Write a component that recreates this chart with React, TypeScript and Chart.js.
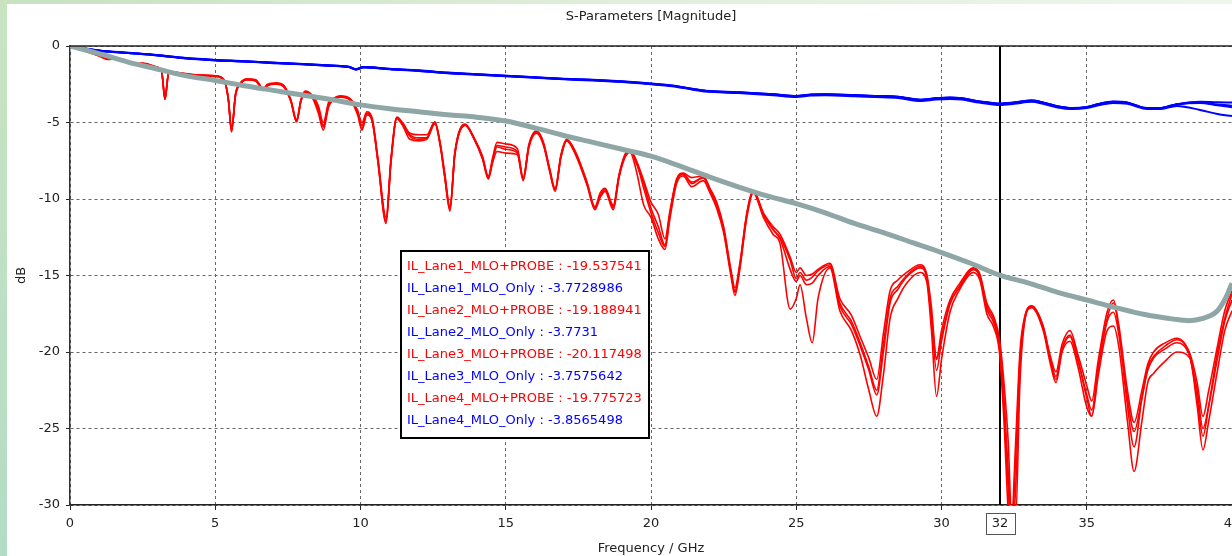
import React, { useEffect, useRef } from "react";
import { Chart, registerables } from "chart.js";

Chart.register(...registerables);

// ---------- texts ----------
const chartTitle = "S-Parameters [Magnitude]";
const xAxisTitle = "Frequency / GHz";
const yAxisTitle = "dB";
const xTicks = [0, 5, 10, 15, 20, 25, 30, 35, 40];
const yTicks = [-30, -25, -20, -15, -10, -5, 0];
const markerFreq = 32;

const probeNames = [
  "IL_Lane1_MLO+PROBE",
  "IL_Lane2_MLO+PROBE",
  "IL_Lane3_MLO+PROBE",
  "IL_Lane4_MLO+PROBE",
];
const onlyNames = [
  "IL_Lane1_MLO_Only",
  "IL_Lane2_MLO_Only",
  "IL_Lane3_MLO_Only",
  "IL_Lane4_MLO_Only",
];
const probeMarkerValues = ["-19.537541", "-19.188941", "-20.117498", "-19.775723"];
const onlyMarkerValues = ["-3.7728986", "-3.7731", "-3.7575642", "-3.8565498"];

// ---------- MLO + PROBE (red) ----------
const probeFreq = [
  0, 0.5, 1.0, 1.3, 1.6, 2.0, 2.2, 2.5, 3.0, 3.15,
  3.27, 3.4, 3.9, 4.5, 5.0, 5.3, 5.45, 5.56, 5.7, 5.85,
  6.1, 6.4, 6.65, 6.8, 7.1, 7.35, 7.6, 7.8, 7.95, 8.1,
  8.35, 8.55, 8.72, 8.9, 9.05, 9.3, 9.65, 9.9, 10.05, 10.22,
  10.4, 10.6, 10.88, 11.05, 11.25, 11.45, 11.7, 12.0, 12.28, 12.56,
  12.75, 12.9, 13.08, 13.25, 13.6, 13.9, 14.2, 14.4, 14.55, 14.7,
  15.0, 15.4, 15.6, 15.8, 16.06, 16.3, 16.5, 16.7, 16.9, 17.1,
  17.4, 17.8, 18.07, 18.25, 18.42, 18.7, 18.9, 19.1, 19.28, 19.5,
  19.75, 20.0, 20.25, 20.48, 20.65, 20.88, 21.11, 21.4, 21.8, 22.03,
  22.26, 22.5, 22.75, 22.89, 23.05, 23.3, 23.52, 23.87, 24.2, 24.44,
  24.79, 25.0, 25.13, 25.35, 25.55, 25.75, 26.16, 26.5, 26.9, 27.2,
  27.5, 27.77, 28.0, 28.23, 28.5, 28.8, 29.26, 29.49, 29.65, 29.83,
  30.0, 30.29, 30.6, 31.1, 31.32, 31.56, 31.8, 32.0, 32.15, 32.3,
  32.4, 32.55, 32.7, 32.85, 33.1, 33.5, 33.75, 33.94, 34.15, 34.42,
  34.7, 35.0, 35.17, 35.4, 35.7, 35.92, 36.1, 36.4, 36.63, 36.9,
  37.1, 37.3, 37.7, 38.1, 38.55, 38.8, 39.0, 39.2, 39.5, 39.75,
  40.0,
];
const lane1Probe = [
  0, -0.3, -0.62, -0.85, -0.82, -1.0, -1.2, -1.15, -1.4, -1.6,
  -3.5, -1.7, -1.8, -1.9, -1.95, -2.2, -3.5, -5.6, -3.2, -2.5,
  -2.2, -2.25, -2.85, -2.55, -2.45, -2.6, -3.6, -4.95, -3.6, -3.0,
  -3.3, -4.2, -5.3, -3.8, -3.5, -3.3, -3.5, -4.3, -5.4, -4.4,
  -4.8, -7.5, -11.5, -7.5, -4.7, -5.1, -5.8, -6.0, -6.0, -5.0,
  -6.5, -8.5, -10.7, -7.0, -5.16, -6.0, -7.3, -8.6, -7.5, -6.6,
  -6.75, -7.0, -8.7, -6.5, -5.6, -6.4, -8.0, -9.4, -7.2, -6.15,
  -7.0, -9.0, -10.6, -9.8, -9.35, -10.6, -8.5, -7.2, -6.85, -7.6,
  -9.3, -10.9, -12.2, -13.1, -11.0, -8.8, -8.35, -9.0, -8.6, -9.4,
  -10.4, -12.0, -14.8, -16.1, -14.5, -11.0, -9.5, -11.0, -12.0, -12.5,
  -14.0, -15.2, -14.8, -15.3, -15.1, -14.7, -14.3, -16.8, -18.0, -19.4,
  -21.0, -22.5, -19.5, -16.5, -15.7, -15.0, -14.4, -15.0, -17.5, -20.5,
  -19.0, -16.8, -15.8, -14.6, -15.0, -17.0, -17.9, -19.54, -23.0, -28.0,
  -31.5, -26.0, -20.0, -17.8, -17.0, -18.4, -20.5, -21.8, -19.8, -18.9,
  -20.5, -23.0, -24.2, -21.0, -17.8, -16.8, -18.5, -23.5, -26.2, -23.0,
  -21.0, -20.3, -19.6, -19.2, -20.3, -23.0, -25.5, -23.5, -20.0, -17.8,
  -16.2,
];
const lane2Probe = [
  0, -0.3, -0.6, -0.8, -0.8, -0.98, -1.15, -1.12, -1.38, -1.58,
  -3.4, -1.68, -1.78, -1.9, -1.95, -2.2, -3.4, -5.4, -3.1, -2.45,
  -2.15, -2.2, -2.8, -2.5, -2.4, -2.55, -3.5, -4.8, -3.5, -2.95,
  -3.25, -3.9, -5.0, -3.7, -3.45, -3.25, -3.45, -4.2, -5.0, -4.3,
  -4.7, -7.3, -11.2, -7.3, -4.65, -5.0, -5.7, -5.8, -5.8, -4.95,
  -6.4, -8.3, -10.5, -6.9, -5.1, -5.95, -7.2, -8.5, -7.3, -6.3,
  -6.4, -6.7, -8.6, -6.4, -5.55, -6.3, -7.9, -9.3, -7.1, -6.1,
  -6.9, -8.9, -10.5, -9.6, -9.3, -10.4, -8.4, -7.1, -6.8, -7.5,
  -8.8, -10.2, -11.0, -12.6, -10.8, -8.7, -8.3, -8.6, -8.5, -9.3,
  -10.2, -11.8, -14.6, -15.8, -14.3, -10.9, -9.45, -10.9, -11.8, -12.3,
  -13.8, -14.8, -14.5, -15.0, -14.9, -14.6, -14.2, -16.5, -17.6, -19.0,
  -20.4, -21.8, -18.8, -16.0, -15.3, -14.8, -14.3, -14.9, -17.0, -20.4,
  -18.6, -16.6, -15.6, -14.5, -14.9, -16.8, -17.7, -19.19, -22.0, -26.0,
  -30.5, -31.0, -22.0, -18.2, -17.0, -18.3, -20.3, -21.3, -19.5, -18.6,
  -20.2, -22.2, -23.2, -20.5, -17.4, -16.6, -18.2, -22.5, -24.6, -22.5,
  -20.8, -20.0, -19.4, -19.1, -20.1, -22.0, -24.2, -22.5, -19.6, -17.3,
  -16.0,
];
const lane3Probe = [
  0, -0.32, -0.65, -0.88, -0.85, -1.02, -1.22, -1.18, -1.42, -1.62,
  -3.5, -1.72, -1.85, -1.95, -2.0, -2.25, -3.5, -5.6, -3.2, -2.5,
  -2.2, -2.3, -2.9, -2.6, -2.5, -2.65, -3.6, -4.95, -3.6, -3.05,
  -3.4, -4.4, -5.5, -4.0, -3.55, -3.35, -3.55, -4.5, -5.5, -4.5,
  -4.9, -7.6, -11.6, -7.6, -4.75, -5.2, -6.1, -6.2, -6.1, -5.1,
  -6.6, -8.6, -10.8, -7.1, -5.2, -6.05, -7.4, -8.7, -7.6, -6.9,
  -7.0, -7.1, -8.8, -6.6, -5.7, -6.5, -8.1, -9.5, -7.3, -6.2,
  -7.1, -9.1, -10.7, -9.9, -9.5, -10.7, -8.6, -7.3, -6.95, -8.2,
  -10.4, -11.2, -12.6, -13.3, -11.3, -9.0, -8.5, -9.2, -8.8, -9.6,
  -10.6, -12.2, -15.0, -16.3, -14.7, -11.2, -9.6, -11.2, -12.3, -12.9,
  -17.2, -16.5, -15.6, -17.8, -19.4, -16.5, -14.5, -17.3, -18.6, -20.2,
  -22.5, -24.2, -21.5, -17.8, -16.5, -15.5, -14.8, -15.4, -18.5, -22.9,
  -20.5, -17.4, -16.0, -14.8, -15.3, -17.5, -18.4, -20.12, -24.5, -30.5,
  -32.0, -27.0, -20.5, -18.0, -17.1, -18.6, -20.8, -22.0, -20.0, -19.3,
  -21.0, -23.6, -24.2, -21.5, -18.6, -18.3, -19.6, -24.5, -27.8, -24.5,
  -22.0, -21.4, -20.6, -20.0, -20.4, -23.5, -26.4, -24.5, -21.2, -18.6,
  -17.3,
];
const lane4Probe = [
  0, -0.3, -0.63, -0.82, -0.83, -1.0, -1.18, -1.15, -1.4, -1.6,
  -3.45, -1.7, -1.8, -1.92, -1.97, -2.2, -3.45, -5.5, -3.15, -2.5,
  -2.2, -2.25, -2.85, -2.55, -2.45, -2.6, -3.55, -4.9, -3.55, -3.0,
  -3.35, -4.1, -5.2, -3.9, -3.5, -3.3, -3.5, -4.35, -5.2, -4.4,
  -4.85, -7.5, -11.4, -7.5, -4.7, -5.1, -5.9, -6.1, -6.0, -5.0,
  -6.5, -8.5, -10.6, -7.0, -5.15, -6.0, -7.3, -8.6, -7.4, -6.5,
  -6.6, -6.9, -8.7, -6.5, -5.6, -6.4, -8.0, -9.4, -7.2, -6.15,
  -7.0, -9.0, -10.6, -9.8, -9.4, -10.5, -8.5, -7.2, -6.85, -7.7,
  -9.0, -10.6, -11.8, -13.0, -11.0, -8.8, -8.4, -8.9, -8.6, -9.4,
  -10.4, -12.0, -14.8, -16.0, -14.5, -11.0, -9.5, -11.0, -12.0, -12.6,
  -14.6, -15.4, -15.0, -15.6, -15.5, -15.0, -14.4, -17.0, -18.2, -19.6,
  -21.2, -22.8, -20.0, -16.8, -15.9, -15.1, -14.5, -15.1, -17.8, -21.2,
  -19.3, -16.9, -15.8, -14.6, -15.1, -17.2, -18.1, -19.78, -23.5, -29.0,
  -31.8, -29.0, -21.0, -18.0, -17.0, -18.4, -20.5, -21.6, -19.8, -19.0,
  -20.6, -22.8, -23.8, -21.0, -18.0, -17.4, -18.8, -23.0, -25.2, -23.0,
  -21.2, -20.4, -19.8, -19.4, -20.3, -22.5, -25.0, -23.5, -20.4, -18.0,
  -16.6,
];

// ---------- MLO only (blue) ----------
const onlyFreq = [
  0, 1, 2, 3, 4, 5, 6, 7, 8, 9,
  9.6, 9.85, 10.1, 11, 12, 13, 14, 15, 16, 17,
  18, 19, 19.6, 20.2, 20.8, 21.4, 21.9, 23, 24.2, 25,
  25.5, 26, 27, 27.7, 28.5, 29.3, 29.8, 30.3, 30.7, 31.2,
  31.7, 32, 32.5, 33.1, 33.5, 34, 34.5, 35, 35.4, 35.9,
  36.4, 37, 37.5, 38.1, 38.9, 39.5, 40,
];
const lane1Only = [
  0, -0.3, -0.45, -0.6, -0.8, -0.92, -1.0, -1.1, -1.18, -1.28,
  -1.36, -1.52, -1.38, -1.5, -1.6, -1.75, -1.85, -1.95, -2.05, -2.15,
  -2.22, -2.32, -2.4, -2.5, -2.61, -2.8, -2.94, -3.03, -3.16, -3.27,
  -3.18, -3.16, -3.22, -3.27, -3.32, -3.52, -3.42, -3.38, -3.42, -3.6,
  -3.72, -3.773, -3.7, -3.57, -3.7, -3.95, -4.07, -4.0, -3.8, -3.64,
  -3.7, -4.05, -4.07, -3.8, -3.64, -3.68, -3.7,
];
const lane2Only = [
  0, -0.31, -0.46, -0.61, -0.8, -0.93, -1.01, -1.1, -1.19, -1.29,
  -1.37, -1.53, -1.39, -1.5, -1.61, -1.76, -1.86, -1.96, -2.06, -2.16,
  -2.23, -2.33, -2.41, -2.51, -2.62, -2.81, -2.95, -3.04, -3.17, -3.28,
  -3.19, -3.17, -3.23, -3.28, -3.33, -3.53, -3.43, -3.39, -3.43, -3.61,
  -3.73, -3.773, -3.71, -3.58, -3.71, -3.96, -4.08, -4.01, -3.81, -3.66,
  -3.72, -4.06, -4.08, -3.82, -3.7, -3.82, -3.9,
];
const lane3Only = [
  0, -0.29, -0.44, -0.59, -0.79, -0.91, -0.99, -1.09, -1.17, -1.27,
  -1.35, -1.51, -1.37, -1.49, -1.59, -1.74, -1.84, -1.94, -2.04, -2.14,
  -2.21, -2.31, -2.39, -2.49, -2.6, -2.79, -2.93, -3.02, -3.15, -3.26,
  -3.17, -3.15, -3.21, -3.26, -3.31, -3.51, -3.41, -3.37, -3.41, -3.59,
  -3.71, -3.758, -3.69, -3.56, -3.69, -3.94, -4.06, -3.99, -3.79, -3.63,
  -3.69, -4.04, -4.06, -3.8, -3.72, -3.88, -4.0,
];
const lane4Only = [
  0, -0.31, -0.46, -0.62, -0.82, -0.94, -1.02, -1.12, -1.2, -1.3,
  -1.38, -1.55, -1.41, -1.52, -1.63, -1.78, -1.88, -1.98, -2.08, -2.18,
  -2.25, -2.35, -2.43, -2.53, -2.64, -2.84, -2.98, -3.08, -3.22, -3.33,
  -3.24, -3.22, -3.28, -3.34, -3.4, -3.6, -3.5, -3.46, -3.5, -3.68,
  -3.8, -3.857, -3.78, -3.65, -3.78, -4.02, -4.12, -4.06, -3.88, -3.72,
  -3.78, -4.1, -4.12, -3.92, -4.18, -4.45, -4.58,
];

// ---------- limit line (gray) ----------
const limitFreq = [
  0, 1, 2, 3, 4, 5, 6, 7, 8, 9,
  10, 11, 12, 13, 14, 15, 16, 17, 18, 19,
  20, 21, 22, 23, 24, 25, 26, 27, 28, 29,
  30, 31, 32, 33, 34, 35, 36, 37, 38, 38.5,
  39, 39.5, 39.8, 40,
];
const limitValues = [
  0, -0.5, -1.05, -1.5, -1.95, -2.25, -2.6, -2.9, -3.2, -3.5,
  -3.85, -4.1, -4.3, -4.5, -4.65, -4.9, -5.35, -5.85, -6.3, -6.75,
  -7.2, -7.85, -8.55, -9.2, -9.8, -10.3, -10.9, -11.6, -12.2, -12.85,
  -13.5, -14.2, -14.97, -15.5, -16.1, -16.6, -17.1, -17.55, -17.85, -17.95,
  -17.8, -17.3, -16.4, -15.5,
];

const FONT = "'DejaVu Sans', 'Noto Sans', sans-serif";
const RED = "#ff0000";
const BLUE = "#0000ff";
const GRAY = "#8fa6a6";

function pts(xs: number[], ys: number[]) {
  return xs.map((x, i) => ({ x, y: ys[i] }));
}

export default function App() {
  const ref = useRef<HTMLCanvasElement>(null);

  useEffect(() => {
    document.body.style.margin = "0";
    const canvas = ref.current;
    if (!canvas) return;

    const decor = {
      id: "decor",
      beforeDraw(chart: any) {
        const { ctx, width, height } = chart;
        ctx.save();
        let g = ctx.createLinearGradient(0, 0, 0, height);
        g.addColorStop(0, "#c9e4c1");
        g.addColorStop(1, "#b3dcc5");
        ctx.fillStyle = g;
        ctx.fillRect(0, 0, 7, height);
        g = ctx.createLinearGradient(0, 0, width, 0);
        g.addColorStop(0, "#c6e2bf");
        g.addColorStop(0.5, "#e0eedb");
        g.addColorStop(1, "#eef6ec");
        ctx.fillStyle = g;
        ctx.fillRect(7, 0, width - 7, 4);
        ctx.fillStyle = "#ffffff";
        ctx.fillRect(7, 4, width - 7, height - 4);
        ctx.restore();
      },
      beforeDatasetsDraw(chart: any) {
        const { ctx, chartArea, scales } = chart;
        const x = Math.round(scales.x.getPixelForValue(markerFreq));
        ctx.save();
        ctx.strokeStyle = "#000";
        ctx.lineWidth = 2;
        ctx.beginPath();
        ctx.moveTo(x, chartArea.top);
        ctx.lineTo(x, chartArea.bottom);
        ctx.stroke();
        ctx.restore();
      },
      afterDraw(chart: any) {
        const { ctx, chartArea, scales } = chart;
        ctx.save();
        // top frame
        ctx.strokeStyle = "#222";
        ctx.lineWidth = 1.5;
        ctx.beginPath();
        ctx.moveTo(chartArea.left, chartArea.top);
        ctx.lineTo(chartArea.right, chartArea.top);
        ctx.stroke();

        // marker label on x axis
        const mx = Math.round(scales.x.getPixelForValue(markerFreq));
        ctx.font = `13px ${FONT}`;
        const label = String(markerFreq);
        const lw = ctx.measureText(label).width;
        const bw = lw + 12;
        const by = chartArea.bottom + 8;
        ctx.fillStyle = "#fff";
        ctx.fillRect(mx - bw / 2, by, bw, 21);
        ctx.strokeStyle = "#555";
        ctx.lineWidth = 1;
        ctx.strokeRect(Math.round(mx - bw / 2) + 0.5, by + 0.5, Math.round(bw), 21);
        ctx.fillStyle = "#222";
        ctx.textAlign = "center";
        ctx.textBaseline = "middle";
        ctx.fillText(label, mx, by + 11);

        // marker legend box
        const lines: { text: string; color: string }[] = [];
        for (let i = 0; i < 4; i++) {
          lines.push({ text: `${probeNames[i]} : ${probeMarkerValues[i]}`, color: RED });
          lines.push({ text: `${onlyNames[i]} : ${onlyMarkerValues[i]}`, color: BLUE });
        }
        let maxW = 0;
        for (const l of lines) maxW = Math.max(maxW, ctx.measureText(l.text).width);
        const boxX = chartArea.left + 331;
        const boxY = chartArea.top + 205;
        const boxW = Math.round(maxW + 13);
        const lineH = 22;
        const boxH = lines.length * lineH + 11;
        ctx.fillStyle = "#fff";
        ctx.fillRect(boxX, boxY, boxW, boxH);
        ctx.strokeStyle = "#000";
        ctx.lineWidth = 2;
        ctx.strokeRect(boxX, boxY, boxW, boxH);
        ctx.textAlign = "left";
        lines.forEach((l, i) => {
          ctx.fillStyle = l.color;
          ctx.fillText(l.text, boxX + 6, boxY + 16 + i * lineH);
        });
        ctx.restore();
      },
    };

    const probeSets = [lane1Probe, lane2Probe, lane3Probe, lane4Probe].map((ys, i) => ({
      label: probeNames[i],
      data: pts(probeFreq, ys),
      borderColor: RED,
      borderWidth: 1.6,
      pointRadius: 0,
      cubicInterpolationMode: "monotone" as const,
    }));
    const onlySets = [lane1Only, lane2Only, lane3Only, lane4Only].map((ys, i) => ({
      label: onlyNames[i],
      data: pts(onlyFreq, ys),
      borderColor: BLUE,
      borderWidth: 2,
      pointRadius: 0,
      cubicInterpolationMode: "monotone" as const,
    }));

    const chart = new Chart(canvas, {
      type: "line",
      data: {
        datasets: [
          {
            label: "Limit",
            data: pts(limitFreq, limitValues),
            borderColor: GRAY,
            borderWidth: 5,
            pointRadius: 0,
            cubicInterpolationMode: "monotone",
          },
          ...onlySets,
          ...probeSets,
        ] as any,
      },
      options: {
        responsive: false,
        animation: false,
        devicePixelRatio: 1,
        layout: { padding: 0 },
        font: { family: FONT, size: 13 } as any,
        plugins: {
          legend: { display: false },
          tooltip: { enabled: false },
          title: {
            display: true,
            fullSize: false,
            text: chartTitle,
            color: "#222",
            font: { family: FONT, size: 13, weight: "normal" },
            padding: { top: 9, bottom: 21.4 },
          },
        },
        scales: {
          x: {
            type: "linear",
            min: 0,
            max: 40,
            afterBuildTicks: (s: any) => {
              s.ticks = xTicks.map((v) => ({ value: v }));
            },
            afterFit: (s: any) => {
              s.height = 51;
              s.paddingLeft = 0;
              s.paddingRight = 0;
            },
            grid: { color: "#666", lineWidth: 1, tickLength: 5, tickColor: "#222", tickWidth: 1 },
            border: { display: true, color: "#222", width: 1.5, dash: [3, 3] },
            ticks: {
              color: "#222",
              padding: 6,
              maxRotation: 0,
              autoSkip: false,
              font: { family: FONT, size: 13 },
            },
            title: {
              display: true,
              text: xAxisTitle,
              color: "#222",
              font: { family: FONT, size: 13 },
              padding: { top: 0, bottom: 0 },
            },
          },
          y: {
            type: "linear",
            min: -30,
            max: 0,
            afterBuildTicks: (s: any) => {
              s.ticks = yTicks.map((v) => ({ value: v }));
            },
            afterFit: (s: any) => {
              s.width = 70;
            },
            grid: { color: "#666", lineWidth: 1, tickLength: 4, tickColor: "#222", tickWidth: 1 },
            border: { display: true, color: "#333", width: 1.5, dash: [3, 3] },
            ticks: {
              color: "#222",
              padding: 6,
              font: { family: FONT, size: 13 },
            },
            title: {
              display: true,
              text: yAxisTitle,
              color: "#222",
              font: { family: FONT, size: 13 },
              padding: { top: 14, bottom: 0 },
            },
          },
        },
      },
      plugins: [decor],
    });

    return () => chart.destroy();
  }, []);

  return (
    <div style={{ width: 1232, height: 556, overflow: "hidden" }}>
      <canvas ref={ref} width={1232} height={556} style={{ display: "block", width: 1232, height: 556 }} />
    </div>
  );
}
